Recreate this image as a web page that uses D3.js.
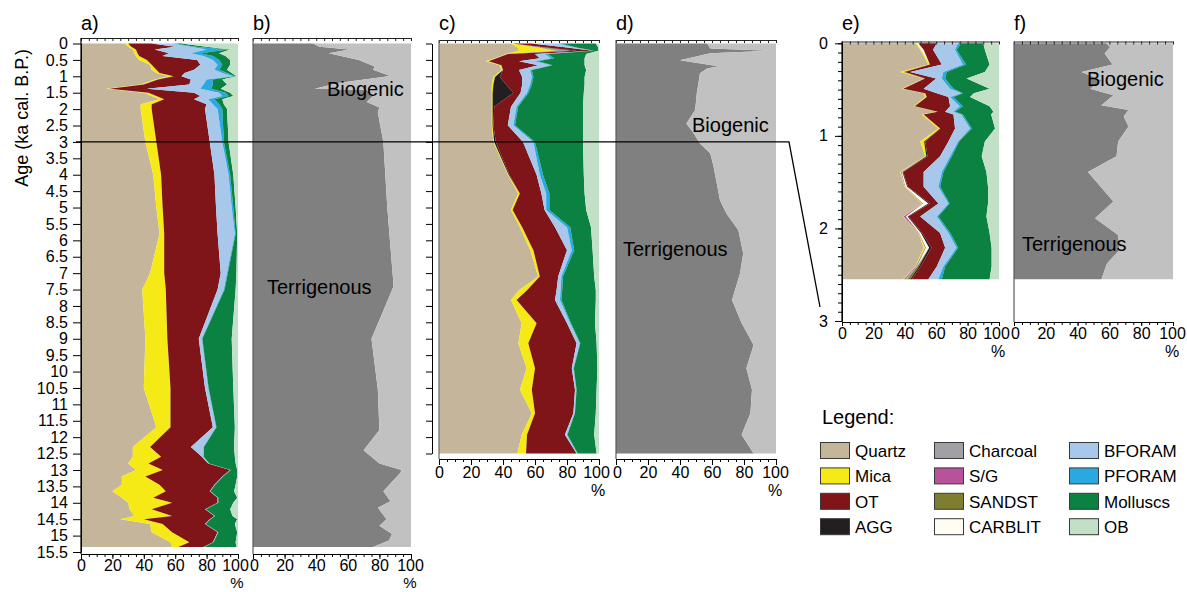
<!DOCTYPE html>
<html><head><meta charset="utf-8">
<script src="https://cdn.jsdelivr.net/npm/d3@7"></script>
<style>
body{margin:0;background:#fff}
svg{display:block}
text{font-family:"Liberation Sans",Arial,sans-serif;fill:#000}
</style>
</head><body>
<svg id="chart" width="1187" height="592"></svg>
<script>
// ---------------- DATA ----------------
// Panel a (whole core, 0-15.35 ka), component percentages
const aAges = [0,0.1,0.18,0.3,0.38,0.5,0.65,0.8,0.9,1.0,1.1,1.25,1.38,1.5,1.6,1.7,1.85,2.0,3,4,5,5.8,7,7.5,9,10.5,11.7,12.3,12.6,12.8,13.0,13.2,13.45,13.65,13.85,14.0,14.2,14.4,14.5,14.65,14.9,15.2,15.35];
const aQuartz = [28,30,33,34,35,37,44,45,48,56,47,38,16,40,45,50,38,38,41,46,48,50,44,39,41,40,48,33,33,30,35,26,26,20,26,30,31,34,25,44,45,57,58];
const aMica = [2,2,2,2,2,5,1,3,2,3,2,2,2,3,3,3,7,7,7,5,4,3,9,15,14,17,9,11,18,13,17,15,24,34,20,28,14,24,15,8,13,12,4];
const aOT = [15,28,12,20,15,32,31,24,16,5,21,29,24,29,28,19,35,34,34,34,34,34,36,33,20,22,27,26,26,38,43,49,35,28,41,29,34,27,42,27,29,15,16];
const aBFORAM = [13,10,33,14,26,10,11,13,24,33,10,9,34,16,14,9,4,8,8,9,10,11,4,4,2,2,2,8,1,0.5,0.3,0.3,0.3,0.3,0.3,0.3,0.3,0.3,0.3,0.3,0.3,0.3,0.3];
const aPFORAM = [2,3,14,6,6,4,3,3,3,1,4,6,7,4,4,4,4,3,1,1,1,0.5,0.5,0.5,0.3,0.3,0.3,0.3,0.2,0.2,0.2,0.2,0.2,0.2,0.2,0.2,0.2,0.2,0.2,0.2,0.2,0.2,0.2];
const aMolluscs = [4,7,1,12,8,7,5,5,3,1,6,9,6,3,3,5,3,3,3,2,1.5,1,5.5,7,18.7,15.7,11.7,19.2,19.8,16.8,4,9,13,15,12,9.5,15.5,11,17,18.5,12,14,20.5];
const aOB = [36,20,5,12,8,5,5,7,4,1,10,7,11,5,3,10,9,7,6,3,1.5,0.5,1,1.5,4,3,2,2.5,2,1.5,0.5,0.5,1.5,2.5,0.5,3,5,3.5,0.5,2,0.5,1.5,1];

// Panel b
const bAges = [0,0.1,0.18,0.3,0.5,0.7,0.8,0.99,1.2,1.38,1.42,1.6,1.78,1.95,2.1,3,5,7.4,9,10.55,11.78,12.4,12.8,13.0,13.1,13.65,13.95,14.15,14.5,14.7,14.95,15.15,15.35];
const bTerrigenous = [38,42,61,48,67,77,76,87,55,39,72,76,72,80,79,82.5,85,89,75,79,80,70,80,94,93,82.5,87,79,84.5,80,88,86,76];
const bBiogenic = [62,58,39,52,33,23,24,13,45,61,28,24,28,20,21,17.5,15,11,25,21,20,30,20,6,7,17.5,13,21,15.5,20,12,14,24];

// Panel c (second core, 0-12.5 ka)
const cAges = [0,0.12,0.22,0.32,0.45,0.54,0.66,0.81,1.02,1.25,1.5,1.93,2.49,3,4,4.57,5.08,5.6,6.3,7.1,7.52,7.82,8.53,9.14,9.9,10.56,11.27,11.93,12.5];
const cQuartz = [45,49,50,42,35,29,38,39,34,33,33,33,33,34,43,49.5,45,50.6,57,62,50,45,51.7,49.6,54.8,50.6,58,51.7,49];
const cMica = [1,13,23,1,1,2,1,1,1,1,0.5,0.5,0.5,0.5,0.5,1,1,1.4,2,1,5,3.5,9.3,6.2,5.2,7.4,2,3.3,5.4];
const cCharcoal = [0,4,10,0,0,0,0,0,0,0,0,0,0,0,0,0,0,0,0,0,0,0,0,0,0,0,0,0,0];
const cAGG = [0,1,3,0,0,0,0,0,3,8,13,1,0.5,1,0.5,0,0,0,0,0,0,0,0,0,0,0,0,0,0];
const cOT = [12,13,10,17,27,19,23,10,14,10,4.5,10.5,9,17,17,13.5,20,20.5,21,11.5,18.5,24,19,30.2,23,27,24,23.7,31.6];
const cBFORAM = [16,5,0.5,6,7,10,8,7,6,5,4,3.5,3.5,6.5,2,3,1,7.5,3,2,2.5,3.1,2,2,1,0.8,0.8,1.3,0.5];
const cPFORAM = [2,1,0.5,2,2,2,1,1,1,1,1,1,1,1,2,2,2,2,1.5,1,1,0.9,0.5,0.3,0.3,0.2,0.2,0.3,0.2];
const cMolluscs = [22,13.5,2.5,24,19,29,20,34,32,33,34.5,40.5,42.5,30,25.5,22,23,13,11.5,19.5,21,21.5,15,10.2,14.7,12.5,13,16.7,11.8];
const cOB = [2,0.5,0.5,8,9,9,9,8,9,9,9.5,10,10,10,9.5,9,8,5,4,3,2,2,2.5,1.5,1,1.5,2,3,1.5];

// Panel d
const dAges = [0,0.15,0.22,0.3,0.51,0.69,0.76,0.91,1.52,2.03,2.44,2.74,3.05,3.35,3.76,4.78,5.18,5.69,6.4,7.01,7.82,8.52,9.19,9.9,10.56,11.27,11.93,12.5];
const dTerrigenous = [57,59,95,59,40,64,57,52.5,50.5,49.5,44,48.5,52.5,59,61,65,69,76.5,79.5,77.5,72.5,78.5,86,81.5,85,84,78.5,86];
const dBiogenic = [43,41,5,41,60,36,43,47.5,49.5,50.5,56,51.5,47.5,41,39,35,31,23.5,20.5,22.5,27.5,21.5,14,18.5,15,16,21.5,14];

// Panel e (detail 0-2.55 ka)
const eAges = [0,0.07,0.23,0.31,0.38,0.49,0.54,0.58,0.68,0.74,0.77,0.92,1.06,1.22,1.39,1.55,1.73,1.87,2.05,2.21,2.41,2.55];
const eQuartz = [46.6,49.8,55,37,52,38,52,53,45.5,60,50.8,61.4,49.8,53,37,40,50.8,39,48.7,52,46.6,39];
const eMica = [1,0.7,1,2.5,0.7,1,1,1,0.7,1,1.2,1.1,2.5,0.7,0.5,0.2,0.5,0.3,0.3,1,0.4,0.5];
const eSG = [0,0,0,0,0,0,0,0,0,0,0,0,0,0,0.5,0.3,0.5,1.5,0.3,0.5,0.5,1];
const eCharcoal = [0,0,0,0,0,0,0,0,0,0,0,0,0,0,0,0,0,0,0,0,0.5,1];
const eCARBLIT = [1.1,1.5,0,0,0,0,0,0,0,0,0,0,0,0,0.5,1,3.2,1,1,2,0,0];
const eSANDST = [0,0,0,0,0,0,0,0,0,0,0,0,0,0,0,0,0,0,0,0,1,2];
const eAGG = [0,0,0,0.5,0.3,0,0,0,0.3,0,0,0,0.7,0.8,0.5,0.5,1,0.6,0.7,1.5,1,1];
const eOT = [11.7,6,7.6,3.4,7,13,7.4,13.8,22.4,4.7,19,9.5,14.8,8,13,10,5.4,7.4,11.5,8.7,10.4,10.5];
const eBFORAM = [13.6,14,13.4,21.2,3.6,16.9,15.6,1.2,6.1,5.3,5,9.6,6.2,6.4,11.6,9.4,6.4,10.6,5.3,7.3,4.2,6.4];
const ePFORAM = [2,1,2,2.1,2.1,2.1,1,2,2,1,1,1.1,0.6,1.1,1,1.1,0.7,1,1.2,1,1.1,2.2];
const eMolluscs = [14,18,15,24.3,13.7,23,7,10.6,17,24.4,18,14.8,16.4,19,27.4,30.5,24.5,30.6,25,21.3,29.6,30.4];
const eOB = [10,9,6,9,20.6,6,16,18.4,6,3.6,5,2.5,9,11,8,7,7,8,6,4.7,4.7,6];

// Panel f
const fAges = [0,0.04,0.11,0.23,0.31,0.4,0.49,0.56,0.67,0.72,0.79,0.9,1.06,1.22,1.39,1.71,1.89,2.07,2.23,2.38,2.55];
const fTerrigenous = [58,60.5,57,62,42.5,55,48,62.5,55,72,69,72,65.5,64.5,46.5,62.5,51,65.5,66.5,58.5,55];
const fBiogenic = [42,39.5,43,38,57.5,45,52,37.5,45,28,31,28,34.5,35.5,53.5,37.5,49,34.5,33.5,41.5,45];

// Axis ticks / labels
const pctMajorTicks = [0,20,40,60,80,100];
const ageTicksLong = d3.range(0,32).map(i => i*0.5);     // 0 .. 15.5
const ageTicksMid = d3.range(0,26).map(i => i*0.5);      // 0 .. 12.5
const ageTicksShortMajor = [0,1,2,3];
const ageTicksShortMinor = d3.range(0,31).map(i => i/10);
const panelLabels = ["a)","b)","c)","d)","e)","f)"];
const legendColumns = [["Quartz","Mica","OT","AGG"],["Charcoal","S/G","SANDST","CARBLIT"],["BFORAM","PFORAM","Molluscs","OB"]];

const colors = {Quartz:"#c4b59b", Mica:"#f6ea16", OT:"#7f1519", AGG:"#231f20", Charcoal:"#a1a1a5",
  "S/G":"#b8529b", SANDST:"#7e7e33", CARBLIT:"#fffcf1", BFORAM:"#a7c8ea", PFORAM:"#29a9e0",
  Molluscs:"#0b8241", OB:"#c1e0c6", Terrigenous:"#808080", Biogenic:"#c1c1c1"};

// ---------------- DRAW ----------------
const svg = d3.select("#chart");
const FONT = '"Liberation Sans", Arial, sans-serif';

function drawStack(ages, seriesObj, x, y) {
  const keys = Object.keys(seriesObj);
  const rows = ages.map((age, i) => { const r = {age}; keys.forEach(k => r[k] = seriesObj[k][i]); return r; });
  const stacked = d3.stack().keys(keys)(rows);
  const area = d3.area().y(d => y(d.data.age)).x0(d => x(d[0])).x1(d => x(d[1]));
  svg.append("g").selectAll("path").data(stacked).join("path")
    .attr("fill", d => colors[d.key]).attr("d", area);
}

function styleAxis(g, size) {
  g.attr("font-family", FONT).attr("font-size", size);
  g.selectAll("text").attr("fill", "#000");
}

function topAxis(x, yTop) {
  svg.append("g").attr("transform", `translate(0,${yTop})`)
    .call(d3.axisBottom(x).tickValues(d3.range(0,101,5)).tickSize(3).tickSizeOuter(0).tickFormat(""))
    .selectAll("line,path").attr("stroke", "#222");
}

// shift0 / shift100: small horizontal nudges so that neighbouring panels' "100" and "0" do not collide
function bottomAxis(x, yPos, majorLen, pad, shift0, shift100) {
  svg.append("g").attr("transform", `translate(0,${yPos})`)
    .call(d3.axisBottom(x).tickValues(d3.range(0,101,5)).tickSize(3).tickSizeOuter(0).tickFormat(""));
  const g = svg.append("g").attr("transform", `translate(0,${yPos})`)
    .call(d3.axisBottom(x).tickValues(pctMajorTicks).tickSize(majorLen).tickSizeOuter(0).tickPadding(pad));
  styleAxis(g, 16);
  g.selectAll(".tick text").attr("dx", d => d === 0 ? shift0 : (d === 100 ? shift100 : 0));
}

function pctLabel(x, yBase, size) {
  svg.append("text").attr("x", x(100) - 1).attr("y", yBase).attr("text-anchor", "middle")
    .attr("font-size", size).text("%");
}

function edge(xPos, y0, y1, color) {
  svg.append("line").attr("x1", xPos).attr("x2", xPos).attr("y1", y0).attr("y2", y1)
    .attr("stroke", color).attr("stroke-width", 1.2);
}

// scales
const yLong = d3.scaleLinear([0, 15.5], [43.5, 552]);
const yMid = d3.scaleLinear([0, 12.5], [43.5, 453.5]);
const yShort = d3.scaleLinear([0, 3], [43.3, 321]);
const xA = d3.scaleLinear([0, 100], [81, 238]);
const xB = d3.scaleLinear([0, 100], [253, 411]);
const xC = d3.scaleLinear([0, 100], [439, 599]);
const xD = d3.scaleLinear([0, 100], [616, 776]);
const xE = d3.scaleLinear([0, 100], [842, 999]);
const xF = d3.scaleLinear([0, 100], [1014, 1173]);

// areas
drawStack(aAges, {Quartz:aQuartz, Mica:aMica, OT:aOT, BFORAM:aBFORAM, PFORAM:aPFORAM, Molluscs:aMolluscs, OB:aOB}, xA, yLong);
drawStack(bAges, {Terrigenous:bTerrigenous, Biogenic:bBiogenic}, xB, yLong);
drawStack(cAges, {Quartz:cQuartz, Mica:cMica, Charcoal:cCharcoal, AGG:cAGG, OT:cOT, BFORAM:cBFORAM, PFORAM:cPFORAM, Molluscs:cMolluscs, OB:cOB}, xC, yMid);
drawStack(dAges, {Terrigenous:dTerrigenous, Biogenic:dBiogenic}, xD, yMid);
drawStack(eAges, {Quartz:eQuartz, Mica:eMica, "S/G":eSG, Charcoal:eCharcoal, CARBLIT:eCARBLIT, SANDST:eSANDST, AGG:eAGG, OT:eOT, BFORAM:eBFORAM, PFORAM:ePFORAM, Molluscs:eMolluscs, OB:eOB}, xE, yShort);
drawStack(fAges, {Terrigenous:fTerrigenous, Biogenic:fBiogenic}, xF, yShort);

// top axes
topAxis(xA, 38); topAxis(xB, 38);
topAxis(xC, 40); topAxis(xD, 40);
topAxis(xE, 41.5); topAxis(xF, 41.5);

// bottom axes
bottomAxis(xA, 554, 5, 1, 0, -3); bottomAxis(xB, 554, 5, 1, 1, -1);
bottomAxis(xC, 459, 6, 2, 0, -3); bottomAxis(xD, 459, 6, 2, 1, -1);
bottomAxis(xE, 322, 4, 2, 0, -3); bottomAxis(xF, 322, 4, 2, 1, -1);
pctLabel(xA, 588, 15); pctLabel(xB, 588, 15);
pctLabel(xC, 496, 16); pctLabel(xD, 496, 16);
pctLabel(xE, 357, 16); pctLabel(xF, 357, 16);

// panel edges
edge(253, 38, 554, "#5a5a5a");
edge(439, 40, 459, "#6a6a6a");
edge(616, 40, 459, "#5a5a5a");
edge(1014, 41.5, 322, "#5a5a5a");

// left axis a
const gA = svg.append("g").attr("transform", "translate(81,0)")
  .call(d3.axisLeft(yLong).tickValues(ageTicksLong).tickFormat(d => String(d)).tickSize(8).tickPadding(5).tickSizeOuter(0));
styleAxis(gA, 16);
edge(81, 38, 554, "#000");

// left axis c (no labels)
svg.append("g").attr("transform", "translate(432,0)")
  .call(d3.axisLeft(yMid).tickValues(ageTicksMid).tickFormat("").tickSize(6).tickSizeOuter(0));

// left axis e
svg.append("g").attr("transform", "translate(842,0)")
  .call(d3.axisLeft(yShort).tickValues(ageTicksShortMinor).tickFormat("").tickSize(4).tickSizeOuter(0));
const gE = svg.append("g").attr("transform", "translate(842,0)")
  .call(d3.axisLeft(yShort).tickValues(ageTicksShortMajor).tickFormat(d => String(d)).tickSize(7).tickPadding(7).tickSizeOuter(0));
styleAxis(gE, 16);
edge(842, 41.5, 322, "#000");

// age axis title
svg.append("text").attr("transform", "translate(28,118) rotate(-90)").attr("text-anchor", "middle")
  .attr("font-size", 18).text("Age (ka cal. B.P.)");

// panel letters
[xA, xB, xC, xD, xE, xF].forEach((x, i) => {
  svg.append("text").attr("x", x(0)).attr("y", 30).attr("font-size", 20).text(panelLabels[i]);
});

// Biogenic / Terrigenous labels
const labelSpec = [
  ["Biogenic", 327, 96], ["Terrigenous", 267, 294],
  ["Biogenic", 692, 132], ["Terrigenous", 623, 256],
  ["Biogenic", 1087, 86], ["Terrigenous", 1022, 251]
];
labelSpec.forEach(([t, x, y]) => svg.append("text").attr("x", x).attr("y", y).attr("font-size", 20).text(t));

// connector line (3 ka marker to panel e)
svg.append("path").attr("d", d3.line()([[76, yLong(3)], [789, yLong(3)], [820, 307]]))
  .attr("fill", "none").attr("stroke", "#000").attr("stroke-width", 1.3);

// legend
svg.append("text").attr("x", 822).attr("y", 424).attr("font-size", 20).text("Legend:");
const legColX = [820, 934, 1069];
legendColumns.forEach((col, ci) => {
  col.forEach((name, ri) => {
    const y0 = 442 + ri * 25.4;
    svg.append("rect").attr("x", legColX[ci] + 0.5).attr("y", y0 + 0.5).attr("width", 29).attr("height", 16)
      .attr("fill", colors[name]).attr("stroke", "#3a3a3a").attr("stroke-width", 1);
    svg.append("text").attr("x", legColX[ci] + 35).attr("y", y0 + 15).attr("font-size", 17).text(name);
  });
});
</script>
</body></html>
